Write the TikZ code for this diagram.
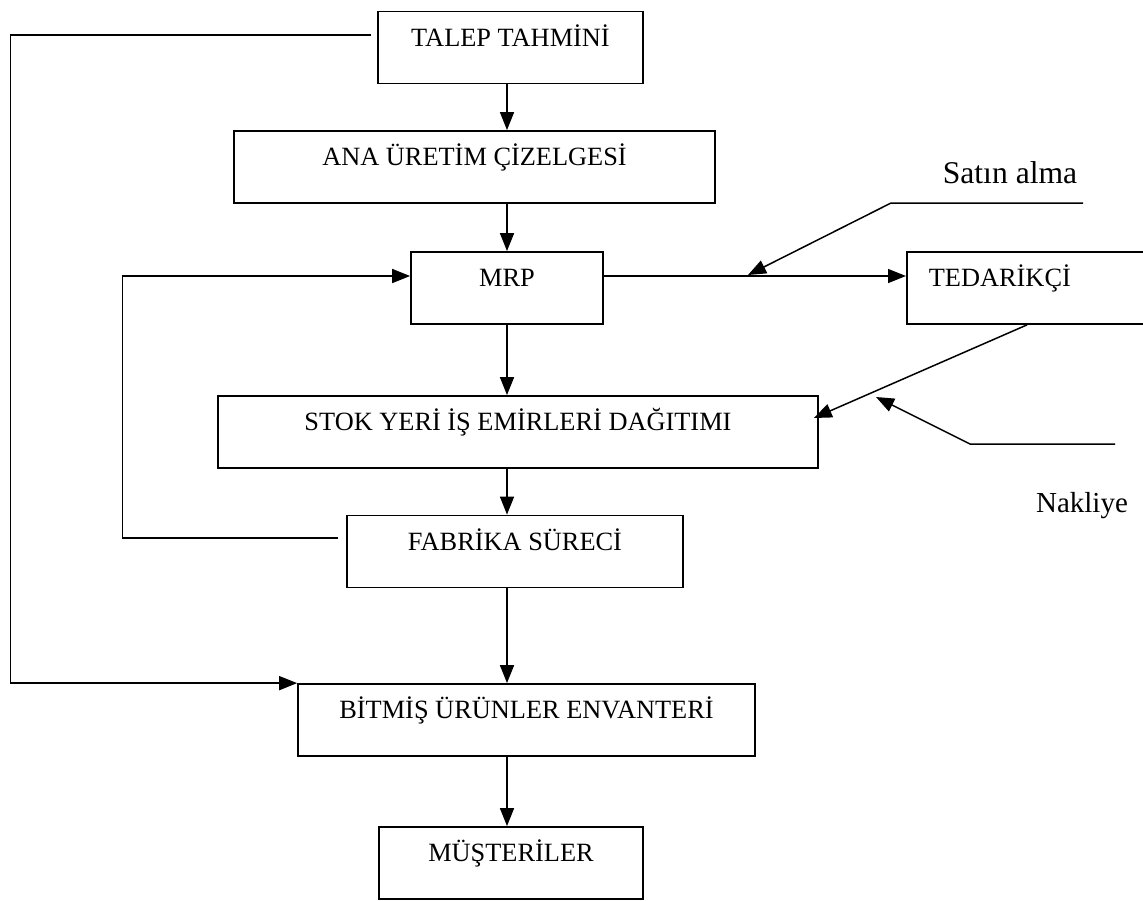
\documentclass[tikz,border=0pt]{standalone}
\usepackage{fontspec}
\setmainfont{Liberation Serif}
\usetikzlibrary{arrows.meta, calc}

\begin{document}
\begin{tikzpicture}[
    x=0.02cm, y=-0.02cm,
    box/.style = {rectangle, draw=black, line width=1pt, inner sep=0pt,
                  text height=0.69cm, text depth=0.75cm,
                  font=\fontsize{15}{18}\selectfont},
    lbl/.style = {inner sep=0pt},
    arr/.style = {-{Triangle[length=0.36cm, width=0.28cm]}, line width=0.85pt},
]
\useasboundingbox (0,0) rectangle (1143,900);
\clip (0,0) rectangle (1143,900);

%% ---- Main chain of boxes ----
\node[box, minimum width=5.3cm]  (talep)   at (510.5, 47.5) {TALEP TAHMİNİ};
\node[box, minimum width=9.62cm] (ana)     at (474.5, 167)  {ANA ÜRETİM ÇİZELGESİ};
\node[box, minimum width=3.84cm] (mrp)     at (507, 288)    {MRP};
\node[box, minimum width=12cm]   (stok)    at (518, 432)    {STOK YERİ İŞ EMİRLERİ DAĞITIMI};
\node[box, minimum width=6.72cm] (fabrika) at (515, 551.5)  {FABRİKA SÜRECİ};
\node[box, minimum width=9.14cm] (bitmis)  at (526.5, 720)  {BİTMİŞ ÜRÜNLER ENVANTERİ};
\node[box, minimum width=5.28cm] (musteri) at (511, 863)    {MÜŞTERİLER};

%% ---- Supplier (runs past the right edge) ----
\node[box, anchor=west, text width=5cm, align=left, inner xsep=0.44cm] (tedarik) at (906, 288) {TEDARİKÇİ};

%% ---- Vertical arrows down the spine ----
\coordinate (spine) at (507, 0);
\foreach \a/\b in {talep/ana, ana/mrp, mrp/stok, stok/fabrika, fabrika/bitmis, bitmis/musteri}
    \draw[arr] (spine |- \a.south) -- (spine |- \b.north);

%% ---- Outer loop: forecast to finished goods ----
\coordinate (outer) at (10.7, 35);
\draw[arr] ($(outer -| talep.west)+(-6,0)$) -- (outer) |- (bitmis.north west);

%% ---- Inner loop: factory back to MRP ----
\coordinate (inner) at (122.5, 538);
\draw[arr] ($(inner -| fabrika.west)+(-8,0)$) -- (inner) |- ($(mrp.west)+(0,-12)$);

%% ---- MRP to supplier ----
\coordinate (mrpout) at ($(mrp.east)+(0,-12)$);
\draw[arr] (mrpout) -- (mrpout -| tedarik.west);

%% ---- Purchasing ----
\node[lbl, font=\fontsize{18}{21}\selectfont] (satin) at (1010, 173) {Satın alma};
\coordinate (satinR) at (1083, 203);
\coordinate (satinK) at (891, 203);
\coordinate (satinT) at (748, 275);
\draw[arr] (satinR) -- (satinK) -- (satinT);

%% ---- Supplier to stock ----
\draw[arr] ($(tedarik.south west)+(121,0)$) -- ($(stok.east)+(-5,-14)$);

%% ---- Transport ----
\node[lbl, font=\fontsize{16.5}{20}\selectfont] (nakliye) at (1082, 506) {Nakliye};
\coordinate (nakR) at (1115, 444);
\coordinate (nakK) at (970, 444);
\coordinate (nakT) at (876, 397);
\draw[arr] (nakR) -- (nakK) -- (nakT);

\end{tikzpicture}
\end{document}
